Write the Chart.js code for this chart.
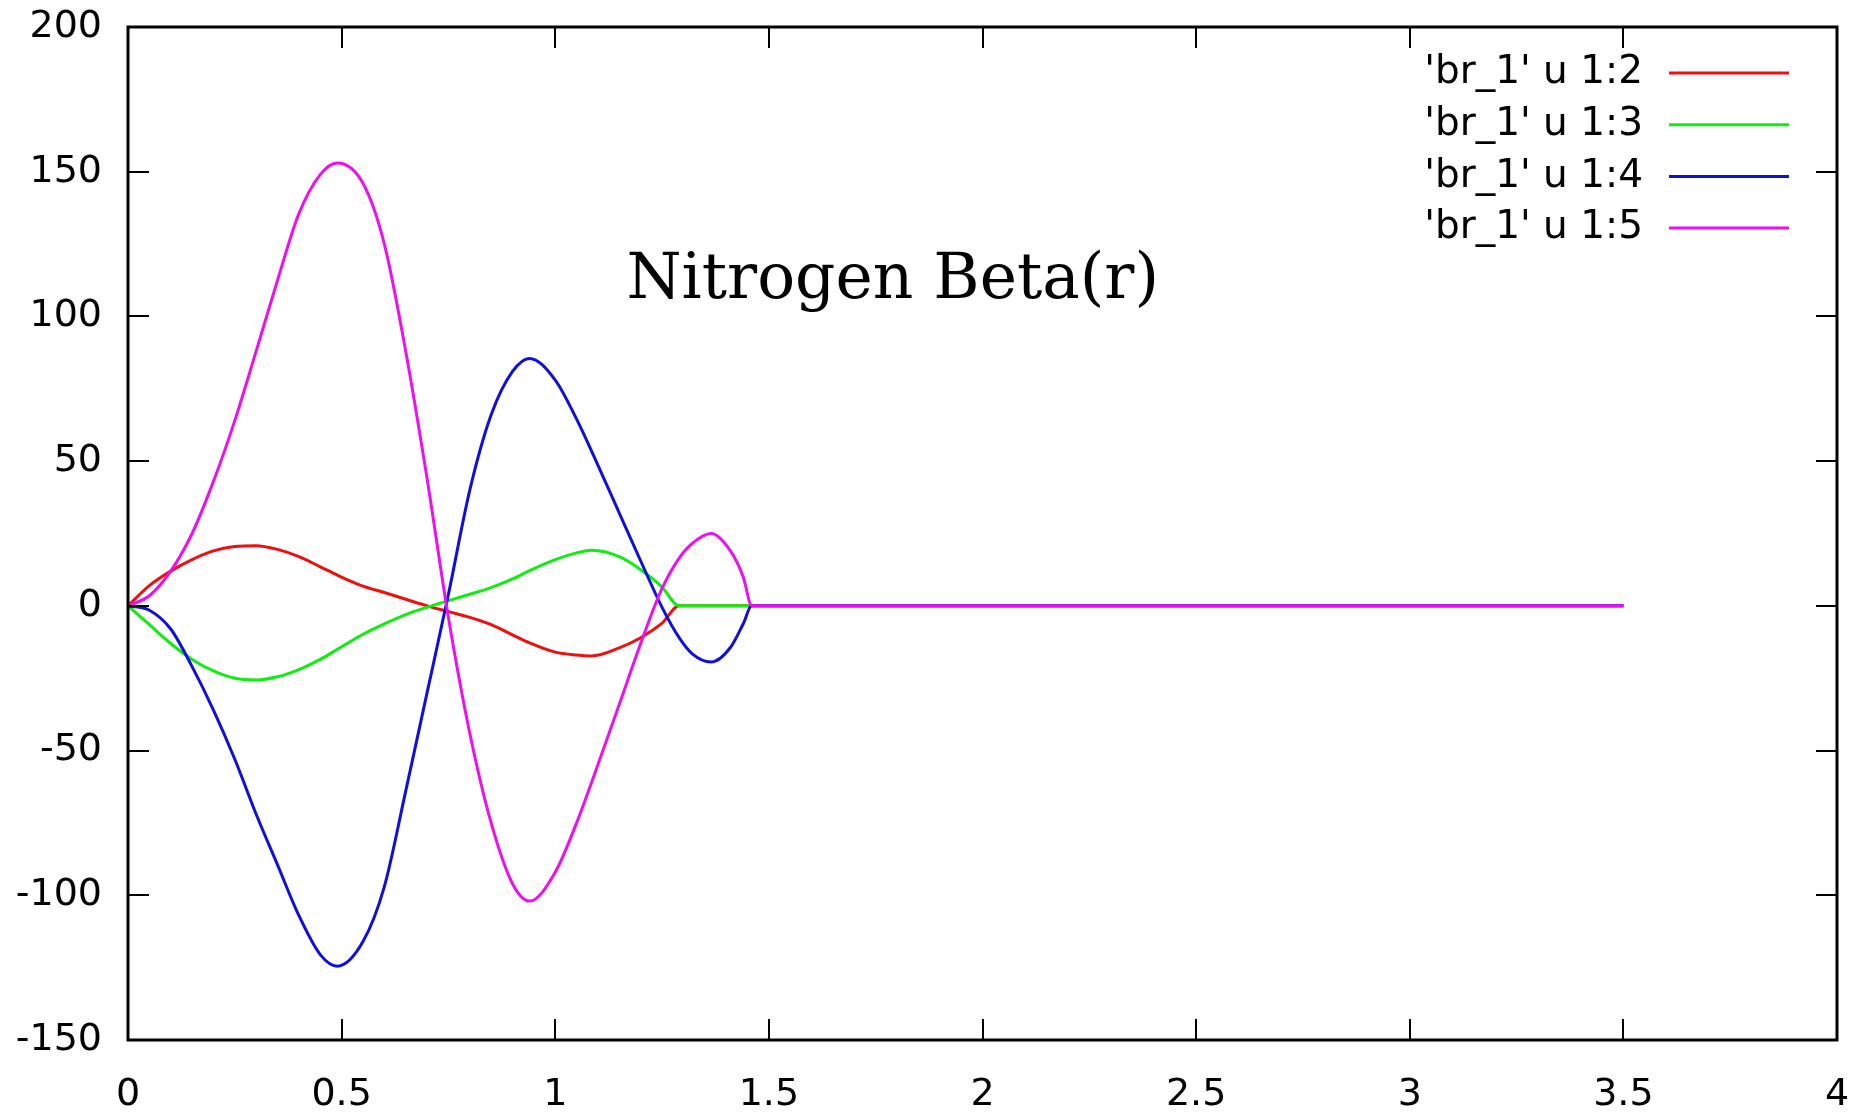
<!DOCTYPE html>
<html lang="en">
<head>
<meta charset="UTF-8">
<title>Nitrogen Beta(r)</title>
<script src="https://cdn.jsdelivr.net/npm/chart.js"></script>
<style>
    html, body { margin: 0; padding: 0; background: white; }
    #wrap { width: 1874px; height: 1117px; }
</style>
</head>
<body>
<div id="wrap"><canvas id="betaChart" width="1874" height="1117"></canvas></div>
<script>
// radius grid (r) and the four columns of br_1
const r = [0, 0.05, 0.1, 0.15, 0.2, 0.25, 0.3, 0.35, 0.4, 0.45, 0.49, 0.55, 0.6, 0.65, 0.7, 0.75,
           0.8, 0.85, 0.9, 0.94, 1.0, 1.05, 1.085, 1.15, 1.2, 1.25, 1.29, 1.32, 1.365, 1.41, 1.44, 1.46, 1.5, 3.5];
const col2 = [0, 7, 12, 16, 19, 20.5, 20.8, 19.5, 17, 13.5, 10.6, 6.8, 4.6, 2.3, 0, -2,
              -4, -6.5, -10, -12.8, -16, -17, -17.3, -14.5, -11, -6, 0, 0, 0, 0, 0, 0, 0, 0];
const col3 = [0, -6.5, -13, -18.5, -22.5, -25, -25.6, -24.5, -22, -18.5, -15, -9.8, -6.2, -3, -0.5, 1.8,
              4, 6.3, 9.3, 12.2, 16, 18.3, 19.2, 17, 12.5, 6.5, 0, 0, 0, 0, 0, 0, 0, 0];
const col4 = [0, -1.5, -8, -21, -36, -53, -72, -89.5, -107, -120.5, -124.5, -116, -97, -64, -30, 4,
              40, 66, 81, 85.5, 78, 64.5, 53.5, 32, 15.5, -0.5, -11, -16.5, -19.4, -14.4, -6.2, 0, 0, 0];
const col5 = [0, 3.5, 12, 25, 43, 64, 88, 112.5, 135.5, 149, 153, 146, 125, 88, 44, -4,
              -44, -75, -96, -102, -92, -75, -61, -34, -13, 6, 16.5, 21.5, 25, 19, 10, 0, 0, 0];

const names = ["'br_1' u 1:2", "'br_1' u 1:3", "'br_1' u 1:4", "'br_1' u 1:5"];
const colors = ['#ee0f0f', '#0fee0f', '#0f0fdd', '#ee0fee'];
const titleText = 'Nitrogen Beta(r)';

function pts(col) {
    return r.map((x, i) => ({ x: x, y: col[i] }));
}

// gnuplot style frame: box, inward ticks on all sides, key and label
const frame = {
    id: 'frame',
    afterDraw(chart) {
        const ctx = chart.ctx;
        const a = chart.chartArea;
        const xs = chart.scales.x, ys = chart.scales.y;
        ctx.save();
        ctx.strokeStyle = '#000';
        ctx.lineWidth = 2;
        ctx.beginPath();
        xs.ticks.forEach(t => {
            const px = Math.round(xs.getPixelForValue(t.value));
            ctx.moveTo(px, a.bottom); ctx.lineTo(px, a.bottom - 21);
            ctx.moveTo(px, a.top); ctx.lineTo(px, a.top + 21);
        });
        ys.ticks.forEach(t => {
            const py = Math.round(ys.getPixelForValue(t.value));
            ctx.moveTo(a.left, py); ctx.lineTo(a.left + 21, py);
            ctx.moveTo(a.right, py); ctx.lineTo(a.right - 21, py);
        });
        ctx.stroke();
        ctx.lineWidth = 3;
        ctx.strokeRect(a.left, a.top, a.right - a.left, a.bottom - a.top);

        // key
        ctx.font = '39px "DejaVu Sans"';
        ctx.fillStyle = '#000';
        ctx.textAlign = 'right';
        ctx.textBaseline = 'middle';
        names.forEach((n, i) => {
            const yy = a.top + 46 + i * 51.7;
            ctx.fillText(n, a.right - 194, yy);
            ctx.strokeStyle = colors[i];
            ctx.lineWidth = 3;
            ctx.beginPath();
            ctx.moveTo(a.right - 168, yy);
            ctx.lineTo(a.right - 48, yy);
            ctx.stroke();
        });

        // label
        ctx.font = '63px "DejaVu Serif"';
        ctx.textAlign = 'center';
        ctx.textBaseline = 'alphabetic';
        ctx.fillText(titleText, xs.getPixelForValue(1.79), ys.getPixelForValue(106.5));
        ctx.restore();
    }
};

Chart.defaults.font.family = '"DejaVu Sans"';
Chart.defaults.color = '#000';

const ds = [col2, col3, col4, col5].map((col, i) => ({
    label: names[i],
    data: pts(col),
    borderColor: colors[i],
    backgroundColor: colors[i],
    borderWidth: 3,
    pointRadius: 0,
    fill: false,
    cubicInterpolationMode: 'monotone',
    order: 3 - i
}));

function noPad(scale) {
    scale.paddingLeft = 0;
    scale.paddingRight = 0;
    scale.paddingTop = 0;
    scale.paddingBottom = 0;
}

new Chart(document.getElementById('betaChart'), {
    type: 'line',
    data: { datasets: ds },
    options: {
        responsive: false,
        animation: false,
        devicePixelRatio: 1,
        layout: { padding: { top: 27, right: 37, left: 0, bottom: 0 } },
        plugins: { legend: { display: false }, tooltip: { enabled: false } },
        scales: {
            x: {
                type: 'linear',
                min: 0, max: 4,
                grid: { display: false, drawTicks: false },
                border: { display: false },
                ticks: {
                    stepSize: 0.5, font: { size: 38 }, padding: 32, maxRotation: 0,
                    callback: v => String(Math.round(v * 10) / 10)
                },
                afterFit(scale) { scale.height = 77; noPad(scale); }
            },
            y: {
                min: -150, max: 200,
                grid: { display: false, drawTicks: false },
                border: { display: false },
                ticks: { stepSize: 50, font: { size: 38 }, padding: 26 },
                afterFit(scale) { scale.width = 128; noPad(scale); }
            }
        }
    },
    plugins: [frame]
});
</script>
</body>
</html>
